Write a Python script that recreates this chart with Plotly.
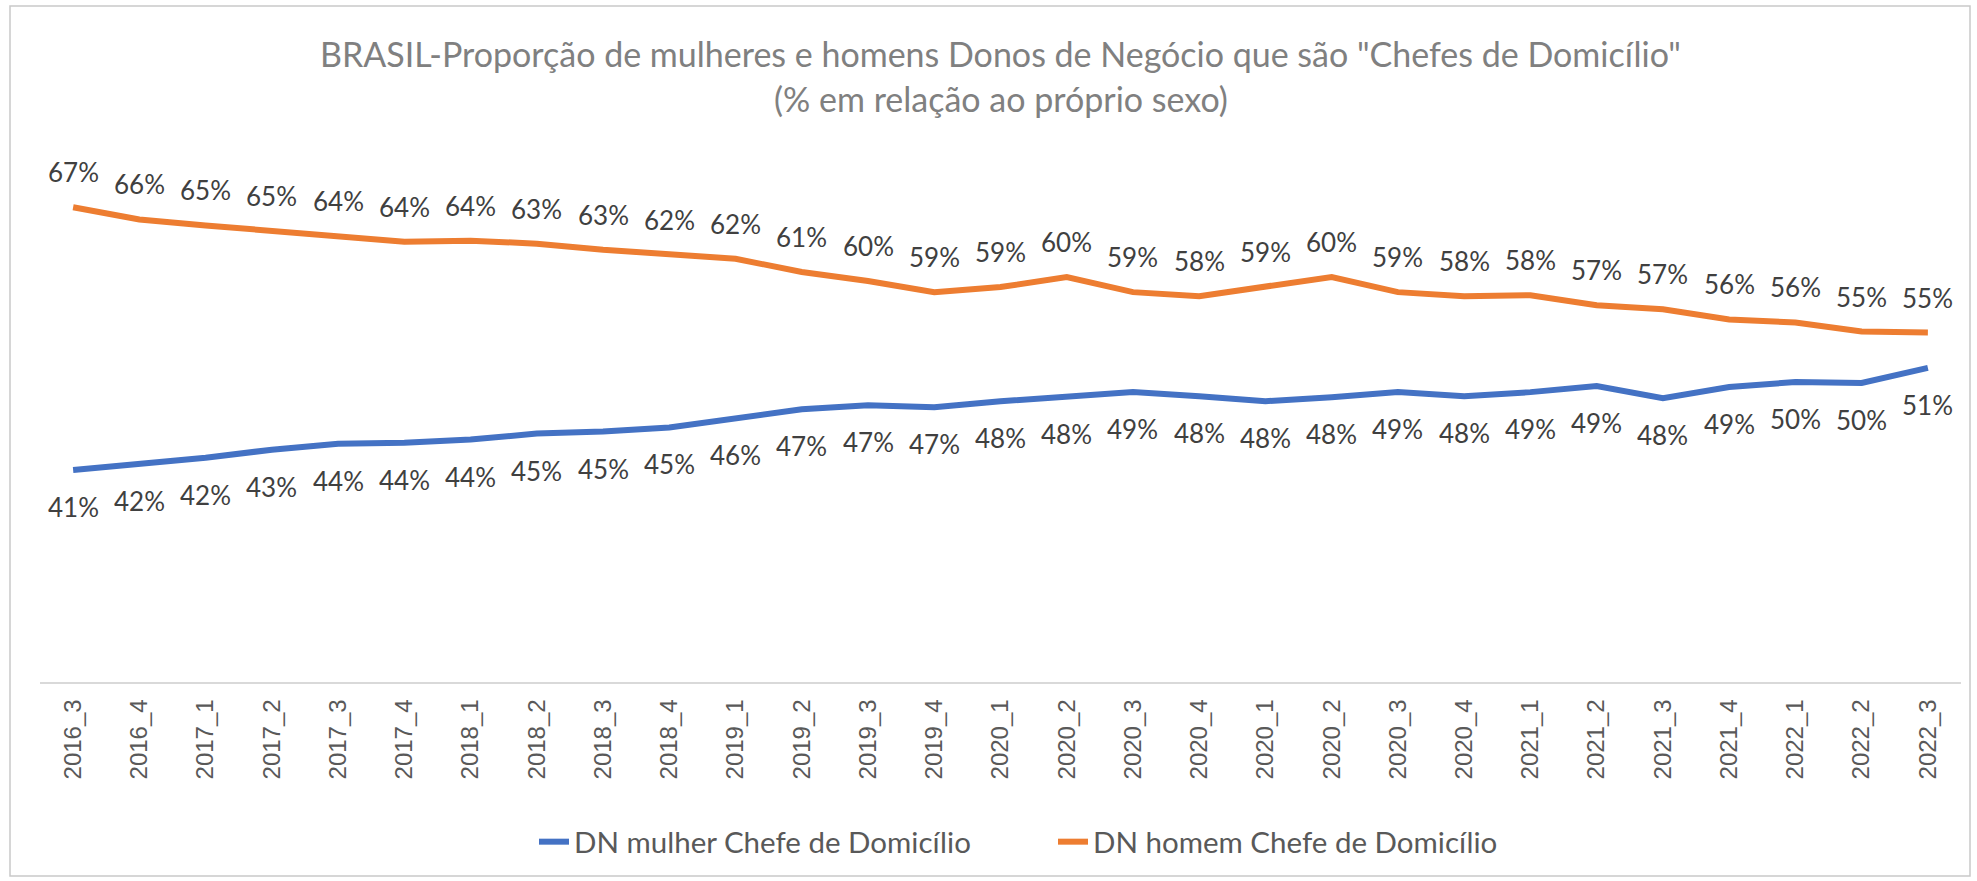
import plotly.graph_objects as go

# Quarter labels (2020 appears twice in the source series)
periodos = ["2016_3", "2016_4", "2017_1", "2017_2", "2017_3", "2017_4",
            "2018_1", "2018_2", "2018_3", "2018_4", "2019_1", "2019_2",
            "2019_3", "2019_4", "2020_1", "2020_2", "2020_3", "2020_4",
            "2020_1", "2020_2", "2020_3", "2020_4", "2021_1", "2021_2",
            "2021_3", "2021_4", "2022_1", "2022_2", "2022_3"]

# Share of business owners who are head of household (% of own sex)
dn_mulher = [41.0, 41.6, 42.2, 43.0, 43.6, 43.7, 44.0, 44.6, 44.8, 45.2,
             46.1, 47.0, 47.4, 47.2, 47.8, 48.2, 48.7, 48.3, 47.8, 48.2,
             48.7, 48.3, 48.7, 49.3, 48.1, 49.2, 49.7, 49.6, 51.1]
dn_homem = [67.0, 65.8, 65.2, 64.7, 64.2, 63.6, 63.7, 63.4, 62.8, 62.3,
            61.9, 60.6, 59.7, 58.6, 59.1, 60.1, 58.6, 58.2, 59.1, 60.1,
            58.6, 58.2, 58.3, 57.3, 56.9, 55.9, 55.6, 54.7, 54.6]

nomes = ["DN mulher Chefe de Domicílio", "DN homem Chefe de Domicílio"]
titulo = ('BRASIL-Proporção de mulheres e homens Donos de Negócio que são '
          '"Chefes de Domicílio"')
subtitulo = "(% em relação ao próprio sexo)"

W, H = 1977, 881
ML, MR, MT, MB = 40, 16, 177, 199
PW, PH = W - ML - MR, H - MT - MB

def px_x(px):
    return (px - ML) / PW

def px_y(py):
    return (H - MB - py) / PH

AZUL = "#4472C4"
LARANJA = "#ED7D31"
FONTE = "Lato, Carlito, Calibri, sans-serif"

x = list(range(len(periodos)))

fig = go.Figure()
fig.add_trace(go.Scatter(x=x, y=dn_mulher, mode="lines", name=nomes[0],
                         line=dict(color=AZUL, width=6)))
fig.add_trace(go.Scatter(x=x, y=dn_homem, mode="lines", name=nomes[1],
                         line=dict(color=LARANJA, width=6)))

anots = []
for xi, v in zip(x, dn_homem):
    anots.append(dict(x=xi, y=v, xref="x", yref="y", text=f"{round(v)}%",
                      showarrow=False, yshift=35,
                      font=dict(family=FONTE, size=26, color="#404040")))
for xi, v in zip(x, dn_mulher):
    anots.append(dict(x=xi, y=v, xref="x", yref="y", text=f"{round(v)}%",
                      showarrow=False, yshift=-37,
                      font=dict(family=FONTE, size=26, color="#404040")))

# chart title (two lines)
anots.append(dict(x=0.5, y=px_y(53), xref="paper", yref="paper", text=titulo,
                  showarrow=False, xanchor="center", yanchor="middle",
                  font=dict(family=FONTE, size=34, color="#808080")))
anots.append(dict(x=0.5, y=px_y(98), xref="paper", yref="paper", text=subtitulo,
                  showarrow=False, xanchor="center", yanchor="middle",
                  font=dict(family=FONTE, size=34, color="#808080")))

fig.update_layout(
    width=W, height=H,
    margin=dict(l=ML, r=MR, t=MT, b=MB),
    paper_bgcolor="white", plot_bgcolor="white",
    annotations=anots,
    showlegend=True,
    legend=dict(orientation="h", x=px_x(534), xanchor="left",
                y=px_y(842), yanchor="middle",
                font=dict(family=FONTE, size=29.5, color="#595959"),
                entrywidth=474, entrywidthmode="pixels",
                bgcolor="rgba(0,0,0,0)"),
    shapes=[dict(type="rect", xref="paper", yref="paper",
                 x0=px_x(10), x1=px_x(1970), y0=px_y(876), y1=px_y(6),
                 line=dict(color="#C9C9C9", width=1.5), layer="below")],
)

fig.update_xaxes(range=[-0.5, len(periodos) - 0.5], tickmode="array",
                 tickvals=x, ticktext=periodos, tickangle=-90,
                 showgrid=False, zeroline=False, showline=True,
                 linecolor="#D9D9D9", linewidth=1.5, ticks="",
                 ticklabelstandoff=6,
                 tickfont=dict(family="Liberation Sans, Arial, sans-serif",
                               size=24, color="#595959"))
fig.update_yaxes(range=[20, 70], visible=False, showgrid=False)

fig.write_html("out.html")
